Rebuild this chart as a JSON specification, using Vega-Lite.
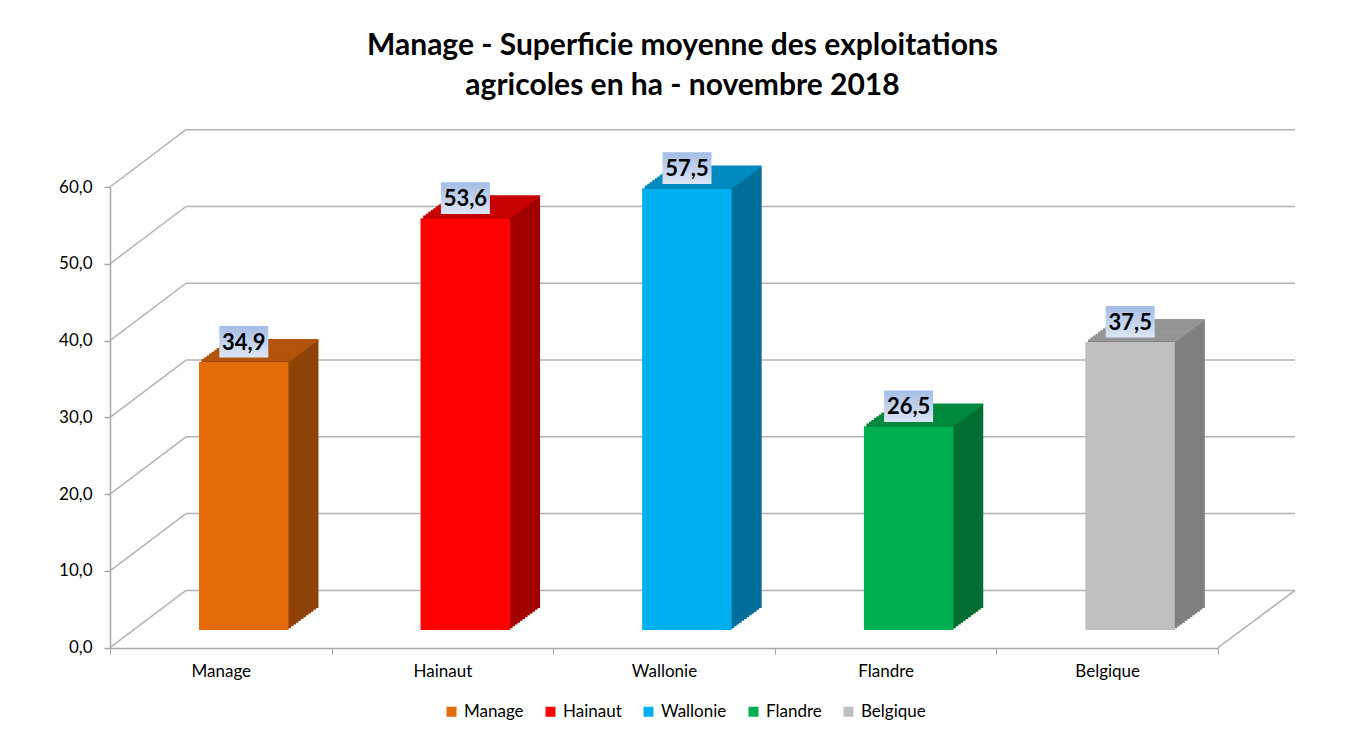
{
  "$schema": "https://vega.github.io/schema/vega-lite/v6.json",
  "autosize": {"type": "none"},
  "width": 1185,
  "height": 519,
  "padding": {"left": 110, "top": 129, "right": 50, "bottom": 81},
  "background": "white",
  "config": {
    "locale": {"number": {"decimal": ",", "thousands": ".", "grouping": [3], "currency": ["", " €"]}},
    "view": {"stroke": null},
    "font": "Lato",
    "axis": {"labelFont": "Lato", "labelColor": "#000000", "domainColor": "#a6a6a6", "domainWidth": 1.5, "tickColor": "#a6a6a6", "grid": false},
    "axisX": {"labelAngle": 0, "labelFontSize": 17, "tickBand": "extent", "tickSize": 6, "tickWidth": 1, "labelPadding": 9},
    "axisY": {"labelFontSize": 17, "tickCount": 7, "tickSize": 6, "tickWidth": 1.5, "labelPadding": 12}
  },
  "title": {
    "text": ["Manage - Superficie moyenne des exploitations", "agricoles en ha - novembre 2018"],
    "font": "Lato", "fontSize": 30, "fontWeight": "bold", "color": "#000000",
    "anchor": "middle", "dx": -20, "offset": 28, "lineHeight": 40
  },
  "datasets": {
    "bars": [
      {"cat": "Manage", "v": 34.9},
      {"cat": "Hainaut", "v": 53.6},
      {"cat": "Wallonie", "v": 57.5},
      {"cat": "Flandre", "v": 26.5},
      {"cat": "Belgique", "v": 37.5}
    ],
    "grid": [{"v": 0}, {"v": 10}, {"v": 20}, {"v": 30}, {"v": 40}, {"v": 50}, {"v": 60}]
  },
  "data": {"name": "bars"},
  "layer": [
    {"mark": {"type": "bar", "width": {"band": 0.403}, "xOffset": 23, "yOffset": -17.7, "y2Offset": -17.7},
     "encoding": {
       "x": {"field": "cat", "type": "nominal", "sort": null, "title": null,
         "scale": {"domain": ["Manage", "Hainaut", "Wallonie", "Flandre", "Belgique"], "range": [0, 1108], "paddingInner": 0, "paddingOuter": 0},
         "axis": {"title": null, "labelAngle": 0, "tickBand": "extent", "grid": false, "labelFontSize": 17, "labelPadding": 9, "labelColor": "#000000"}},
       "y": {"field": "v", "type": "quantitative", "title": null,
         "scale": {"domain": [0, 60], "range": [518.7, 58], "nice": false, "zero": false},
         "axis": {"title": null, "values": [0, 10, 20, 30, 40, 50, 60], "format": ".1f", "grid": false, "labelFontSize": 17, "labelPadding": 12, "labelColor": "#000000"}},
       "y2": {"datum": 0},
       "color": {"field": "cat", "type": "nominal",
         "scale": {"domain": ["Manage", "Hainaut", "Wallonie", "Flandre", "Belgique"], "range": ["#E36C09", "#FF0000", "#00B0F0", "#00B050", "#BFBFBF"]},
         "legend": {"orient": "none", "direction": "horizontal", "legendX": 333, "legendY": 574, "title": null,
           "symbolType": "square", "symbolSize": 100, "symbolStrokeWidth": 0, "labelFont": "Lato", "labelFontSize": 17, "labelColor": "#000000",
           "columnPadding": 18, "labelOffset": 4, "padding": 0}}
     }},
    {"data": {"name": "grid"},
     "mark": {"type": "rule", "stroke": "#b3b3b3", "strokeWidth": 1.5, "xOffset": 76, "x2Offset": 77, "yOffset": -57.3},
     "encoding": {
       "x": {"datum": "Manage", "bandPosition": 0, "type": "nominal", "title": null},
       "x2": {"datum": "Belgique", "bandPosition": 1},
       "y": {"field": "v", "type": "quantitative", "title": null}
     }},
    {"data": {"name": "grid"},
     "mark": {"type": "rule", "stroke": "#b3b3b3", "strokeWidth": 1.5, "x2Offset": 76, "y2Offset": -57.3},
     "encoding": {
       "x": {"datum": "Manage", "bandPosition": 0, "type": "nominal", "title": null},
       "x2": {"datum": "Manage", "bandPosition": 0},
       "y": {"field": "v", "type": "quantitative", "title": null},
       "y2": {"field": "v"}
     }},
    {"data": {"name": "grid"},
     "transform": [{"filter": "datum.v == 0"}],
     "mark": {"type": "rule", "stroke": "#b3b3b3", "strokeWidth": 1.5, "x2Offset": 77, "y2Offset": -57.3},
     "encoding": {
       "x": {"datum": "Belgique", "bandPosition": 1, "type": "nominal", "title": null},
       "x2": {"datum": "Belgique", "bandPosition": 1},
       "y": {"field": "v", "type": "quantitative", "title": null},
       "y2": {"field": "v"}
     }},
    {"mark": {"type": "bar", "width": {"band": 0.403}, "xOffset": 25.5, "yOffset": -19.53, "y2Offset": -19.53},
     "encoding": {"x": {"field": "cat", "type": "nominal", "sort": null, "title": null}, "y": {"field": "v", "type": "quantitative", "title": null}, "y2": {"datum": 0},
       "fill": {"field": "cat", "type": "nominal", "legend": null, "scale": {"domain": ["Manage", "Hainaut", "Wallonie", "Flandre", "Belgique"], "range": ["#8F4206", "#A20000", "#006E9A", "#006E31", "#7F7F7F"]}}}},
    {"mark": {"type": "bar", "width": {"band": 0.403}, "xOffset": 28, "yOffset": -21.37, "y2Offset": -21.37},
     "encoding": {"x": {"field": "cat", "type": "nominal", "sort": null, "title": null}, "y": {"field": "v", "type": "quantitative", "title": null}, "y2": {"datum": 0}, "fill": {"field": "cat", "type": "nominal", "legend": null}}},
    {"mark": {"type": "bar", "width": {"band": 0.403}, "xOffset": 30.5, "yOffset": -23.2, "y2Offset": -23.2},
     "encoding": {"x": {"field": "cat", "type": "nominal", "sort": null, "title": null}, "y": {"field": "v", "type": "quantitative", "title": null}, "y2": {"datum": 0}, "fill": {"field": "cat", "type": "nominal", "legend": null}}},
    {"mark": {"type": "bar", "width": {"band": 0.403}, "xOffset": 33, "yOffset": -25.03, "y2Offset": -25.03},
     "encoding": {"x": {"field": "cat", "type": "nominal", "sort": null, "title": null}, "y": {"field": "v", "type": "quantitative", "title": null}, "y2": {"datum": 0}, "fill": {"field": "cat", "type": "nominal", "legend": null}}},
    {"mark": {"type": "bar", "width": {"band": 0.403}, "xOffset": 35.5, "yOffset": -26.87, "y2Offset": -26.87},
     "encoding": {"x": {"field": "cat", "type": "nominal", "sort": null, "title": null}, "y": {"field": "v", "type": "quantitative", "title": null}, "y2": {"datum": 0}, "fill": {"field": "cat", "type": "nominal", "legend": null}}},
    {"mark": {"type": "bar", "width": {"band": 0.403}, "xOffset": 38, "yOffset": -28.7, "y2Offset": -28.7},
     "encoding": {"x": {"field": "cat", "type": "nominal", "sort": null, "title": null}, "y": {"field": "v", "type": "quantitative", "title": null}, "y2": {"datum": 0}, "fill": {"field": "cat", "type": "nominal", "legend": null}}},
    {"mark": {"type": "bar", "width": {"band": 0.403}, "xOffset": 40.5, "yOffset": -30.53, "y2Offset": -30.53},
     "encoding": {"x": {"field": "cat", "type": "nominal", "sort": null, "title": null}, "y": {"field": "v", "type": "quantitative", "title": null}, "y2": {"datum": 0}, "fill": {"field": "cat", "type": "nominal", "legend": null}}},
    {"mark": {"type": "bar", "width": {"band": 0.403}, "xOffset": 43, "yOffset": -32.37, "y2Offset": -32.37},
     "encoding": {"x": {"field": "cat", "type": "nominal", "sort": null, "title": null}, "y": {"field": "v", "type": "quantitative", "title": null}, "y2": {"datum": 0}, "fill": {"field": "cat", "type": "nominal", "legend": null}}},
    {"mark": {"type": "bar", "width": {"band": 0.403}, "xOffset": 45.5, "yOffset": -34.2, "y2Offset": -34.2},
     "encoding": {"x": {"field": "cat", "type": "nominal", "sort": null, "title": null}, "y": {"field": "v", "type": "quantitative", "title": null}, "y2": {"datum": 0}, "fill": {"field": "cat", "type": "nominal", "legend": null}}},
    {"mark": {"type": "bar", "width": {"band": 0.403}, "xOffset": 48, "yOffset": -36.03, "y2Offset": -36.03},
     "encoding": {"x": {"field": "cat", "type": "nominal", "sort": null, "title": null}, "y": {"field": "v", "type": "quantitative", "title": null}, "y2": {"datum": 0}, "fill": {"field": "cat", "type": "nominal", "legend": null}}},
    {"mark": {"type": "bar", "width": {"band": 0.403}, "xOffset": 50.5, "yOffset": -37.87, "y2Offset": -37.87},
     "encoding": {"x": {"field": "cat", "type": "nominal", "sort": null, "title": null}, "y": {"field": "v", "type": "quantitative", "title": null}, "y2": {"datum": 0}, "fill": {"field": "cat", "type": "nominal", "legend": null}}},
    {"mark": {"type": "bar", "width": {"band": 0.403}, "xOffset": 53, "yOffset": -39.7, "y2Offset": -39.7},
     "encoding": {"x": {"field": "cat", "type": "nominal", "sort": null, "title": null}, "y": {"field": "v", "type": "quantitative", "title": null}, "y2": {"datum": 0}, "fill": {"field": "cat", "type": "nominal", "legend": null}}},
    {"mark": {"type": "bar", "width": {"band": 0.403}, "fillOpacity": 0, "strokeWidth": 2.2, "xOffset": 25.5, "yOffset": -19.53, "y2Offset": -19.53},
     "encoding": {"x": {"field": "cat", "type": "nominal", "sort": null, "title": null}, "y": {"field": "v", "type": "quantitative", "title": null}, "y2": {"field": "v"},
       "stroke": {"field": "cat", "type": "nominal", "legend": null, "scale": {"domain": ["Manage", "Hainaut", "Wallonie", "Flandre", "Belgique"], "range": ["#B2540A", "#C80000", "#008BC0", "#008A3E", "#969696"]}}}},
    {"mark": {"type": "bar", "width": {"band": 0.403}, "fillOpacity": 0, "strokeWidth": 2.2, "xOffset": 28, "yOffset": -21.37, "y2Offset": -21.37},
     "encoding": {"x": {"field": "cat", "type": "nominal", "sort": null, "title": null}, "y": {"field": "v", "type": "quantitative", "title": null}, "y2": {"field": "v"}, "stroke": {"field": "cat", "type": "nominal", "legend": null}}},
    {"mark": {"type": "bar", "width": {"band": 0.403}, "fillOpacity": 0, "strokeWidth": 2.2, "xOffset": 30.5, "yOffset": -23.2, "y2Offset": -23.2},
     "encoding": {"x": {"field": "cat", "type": "nominal", "sort": null, "title": null}, "y": {"field": "v", "type": "quantitative", "title": null}, "y2": {"field": "v"}, "stroke": {"field": "cat", "type": "nominal", "legend": null}}},
    {"mark": {"type": "bar", "width": {"band": 0.403}, "fillOpacity": 0, "strokeWidth": 2.2, "xOffset": 33, "yOffset": -25.03, "y2Offset": -25.03},
     "encoding": {"x": {"field": "cat", "type": "nominal", "sort": null, "title": null}, "y": {"field": "v", "type": "quantitative", "title": null}, "y2": {"field": "v"}, "stroke": {"field": "cat", "type": "nominal", "legend": null}}},
    {"mark": {"type": "bar", "width": {"band": 0.403}, "fillOpacity": 0, "strokeWidth": 2.2, "xOffset": 35.5, "yOffset": -26.87, "y2Offset": -26.87},
     "encoding": {"x": {"field": "cat", "type": "nominal", "sort": null, "title": null}, "y": {"field": "v", "type": "quantitative", "title": null}, "y2": {"field": "v"}, "stroke": {"field": "cat", "type": "nominal", "legend": null}}},
    {"mark": {"type": "bar", "width": {"band": 0.403}, "fillOpacity": 0, "strokeWidth": 2.2, "xOffset": 38, "yOffset": -28.7, "y2Offset": -28.7},
     "encoding": {"x": {"field": "cat", "type": "nominal", "sort": null, "title": null}, "y": {"field": "v", "type": "quantitative", "title": null}, "y2": {"field": "v"}, "stroke": {"field": "cat", "type": "nominal", "legend": null}}},
    {"mark": {"type": "bar", "width": {"band": 0.403}, "fillOpacity": 0, "strokeWidth": 2.2, "xOffset": 40.5, "yOffset": -30.53, "y2Offset": -30.53},
     "encoding": {"x": {"field": "cat", "type": "nominal", "sort": null, "title": null}, "y": {"field": "v", "type": "quantitative", "title": null}, "y2": {"field": "v"}, "stroke": {"field": "cat", "type": "nominal", "legend": null}}},
    {"mark": {"type": "bar", "width": {"band": 0.403}, "fillOpacity": 0, "strokeWidth": 2.2, "xOffset": 43, "yOffset": -32.37, "y2Offset": -32.37},
     "encoding": {"x": {"field": "cat", "type": "nominal", "sort": null, "title": null}, "y": {"field": "v", "type": "quantitative", "title": null}, "y2": {"field": "v"}, "stroke": {"field": "cat", "type": "nominal", "legend": null}}},
    {"mark": {"type": "bar", "width": {"band": 0.403}, "fillOpacity": 0, "strokeWidth": 2.2, "xOffset": 45.5, "yOffset": -34.2, "y2Offset": -34.2},
     "encoding": {"x": {"field": "cat", "type": "nominal", "sort": null, "title": null}, "y": {"field": "v", "type": "quantitative", "title": null}, "y2": {"field": "v"}, "stroke": {"field": "cat", "type": "nominal", "legend": null}}},
    {"mark": {"type": "bar", "width": {"band": 0.403}, "fillOpacity": 0, "strokeWidth": 2.2, "xOffset": 48, "yOffset": -36.03, "y2Offset": -36.03},
     "encoding": {"x": {"field": "cat", "type": "nominal", "sort": null, "title": null}, "y": {"field": "v", "type": "quantitative", "title": null}, "y2": {"field": "v"}, "stroke": {"field": "cat", "type": "nominal", "legend": null}}},
    {"mark": {"type": "bar", "width": {"band": 0.403}, "fillOpacity": 0, "strokeWidth": 2.2, "xOffset": 50.5, "yOffset": -37.87, "y2Offset": -37.87},
     "encoding": {"x": {"field": "cat", "type": "nominal", "sort": null, "title": null}, "y": {"field": "v", "type": "quantitative", "title": null}, "y2": {"field": "v"}, "stroke": {"field": "cat", "type": "nominal", "legend": null}}},
    {"mark": {"type": "bar", "width": {"band": 0.403}, "fillOpacity": 0, "strokeWidth": 2.2, "xOffset": 53, "yOffset": -39.7, "y2Offset": -39.7},
     "encoding": {"x": {"field": "cat", "type": "nominal", "sort": null, "title": null}, "y": {"field": "v", "type": "quantitative", "title": null}, "y2": {"field": "v"}, "stroke": {"field": "cat", "type": "nominal", "legend": null}}},
    {"mark": {"type": "bar", "width": {"band": 0.403}, "xOffset": 23, "yOffset": -17.7, "y2Offset": -17.7},
     "encoding": {"x": {"field": "cat", "type": "nominal", "sort": null, "title": null}, "y": {"field": "v", "type": "quantitative", "title": null}, "y2": {"datum": 0},
       "color": {"field": "cat", "type": "nominal"}}},
    {"mark": {"type": "point", "shape": "M-1,-0.646L1,-0.646L1,0.646L-1,0.646Z", "size": 2401, "filled": true, "opacity": 1, "strokeWidth": 0,
       "fill": {"gradient": "linear", "x1": 0, "y1": 0, "x2": 0, "y2": 1, "stops": [{"offset": 0, "color": "#a4bde6"}, {"offset": 1, "color": "#dde6f5"}]},
       "xOffset": 23, "yOffset": -38},
     "encoding": {"x": {"field": "cat", "type": "nominal", "sort": null, "title": null}, "y": {"field": "v", "type": "quantitative", "title": null}}},
    {"mark": {"type": "text", "font": "Lato", "fontSize": 22, "fontWeight": "bold", "color": "#000000", "baseline": "middle", "align": "center", "xOffset": 23, "yOffset": -37},
     "encoding": {"x": {"field": "cat", "type": "nominal", "sort": null, "title": null}, "y": {"field": "v", "type": "quantitative", "title": null}, "text": {"field": "v", "type": "quantitative", "format": ".1f"}}}
  ]
}
